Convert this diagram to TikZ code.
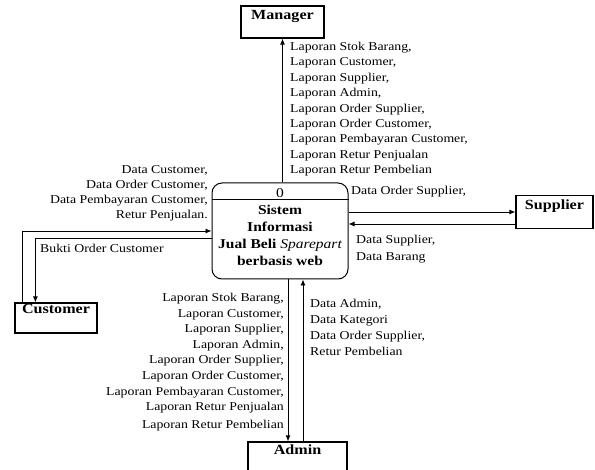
\documentclass[tikz,border=0pt]{standalone}
\usepackage{fontspec}
\setmainfont{Liberation Serif}[FakeStretch=1.15]
\usetikzlibrary{arrows.meta, positioning, calc}

\tikzset{
  entity/.style={draw, line width=1.2pt, rectangle, inner sep=0pt},
  entname/.style={font=\fontsize{14}{16}\selectfont\bfseries, anchor=north, inner sep=0pt},
  process/.style={draw, line width=1pt, rounded corners=10pt, minimum width=136pt,
    align=center, inner xsep=2pt, inner ysep=6pt, font=\fontsize{13.5}{17}\selectfont\bfseries},
  flow/.style={-{Latex[length=6pt,width=5pt]}, line width=0.9pt},
  flowtext/.style={font=\fontsize{12}{15.4}\selectfont, inner sep=0pt}
}

\begin{document}
\begin{tikzpicture}[x=1pt, y=-1pt]
\useasboundingbox (0,0) rectangle (595,470);
% external entities
\node[entity, minimum width=83pt, minimum height=32pt,
  label={[entname, label distance=-5pt]north:Manager}] (manager) at (282.5,22) {};
\node[entity, minimum width=77pt, minimum height=33pt,
  label={[entname, label distance=-5pt]north:Supplier}] (supplier) at (554.5,212) {};
\node[entity, minimum width=82pt, minimum height=30pt,
  label={[entname, label distance=-2pt]north:Customer}] (customer) at (56,318) {};
\node[entity, minimum width=99pt, minimum height=40pt,
  label={[entname, label distance=-3pt]north:Admin}] (admin) at (297.5,462) {};
% process
\node[process, text depth=7pt, minimum height=96pt] (proc) at (280,231)
  {{\mdseries 0}\\Sistem\\Informasi\\Jual Beli {\mdseries\itshape Sparepart}\\berbasis web};
\draw[line width=1pt] ($(proc.north west)+(0,17)$) -- ($(proc.north east)+(0,17)$);
% flows
\draw[flow] (proc.north -| manager.south) -- (manager.south);
\draw[flow] (supplier.west -| proc.east) -- (supplier.west);
\coordinate (supback) at ([yshift=-12pt]supplier.west);
\draw[flow] (supback) -- (supback -| proc.east);
\draw[flow] ([xshift=8pt]customer.north west) |- (proc.west);
\draw[flow] ([yshift=-7pt]proc.west) -| ([xshift=21pt]customer.north west);
\coordinate (admdown) at ([xshift=8pt]proc.south);
\coordinate (admup) at ([xshift=23pt]proc.south);
\draw[flow] (admdown) -- (admdown |- admin.north);
\draw[flow] (admup |- admin.north) -- (admup);
% flow labels
\node[flowtext, anchor=north west, align=left] (lblmanager) at (290,42)
  {Laporan Stok Barang,\\Laporan Customer,\\Laporan Supplier,\\Laporan Admin,\\Laporan Order Supplier,\\Laporan Order Customer,\\Laporan Pembayaran Customer,\\Laporan Retur Penjualan\\Laporan Retur Pembelian};
\node[flowtext, anchor=north east, align=right, font=\fontsize{12}{15}\selectfont] (lblcustin) at (208,165)
  {Data Customer,\\Data Order Customer,\\Data Pembayaran Customer,\\Retur Penjualan.};
\node[flowtext, anchor=west] (lblbukti) at (40,248) {Bukti Order Customer};
\node[flowtext, anchor=west] (lblsupout) at (351,192) {Data Order Supplier,};
\node[flowtext, anchor=north west, align=left, font=\fontsize{12}{17}\selectfont] (lblsupin) at (356,235)
  {Data Supplier,\\Data Barang};
\node[flowtext, anchor=north east, align=right, font=\fontsize{12}{15.6}\selectfont] (lbladmout) at (284,293)
  {Laporan Stok Barang,\\Laporan Customer,\\Laporan Supplier,\\Laporan Admin,\\Laporan Order Supplier,\\Laporan Order Customer,\\Laporan Pembayaran Customer,\\Laporan Retur Penjualan\\[2pt]Laporan Retur Pembelian};
\node[flowtext, anchor=north west, align=left, font=\fontsize{12}{16}\selectfont] (lbladmin) at (310,299)
  {Data Admin,\\Data Kategori\\Data Order Supplier,\\Retur Pembelian};
\end{tikzpicture}
\end{document}
